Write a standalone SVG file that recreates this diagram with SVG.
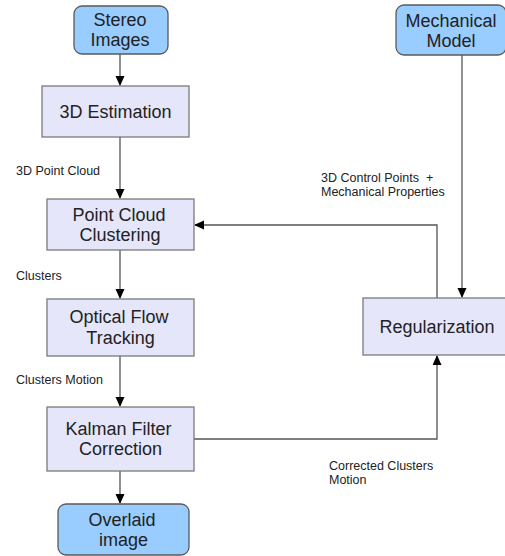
<svg xmlns="http://www.w3.org/2000/svg" width="505" height="556" viewBox="0 0 505 556">
<defs>
<marker id="ah" markerWidth="10" markerHeight="10" refX="9" refY="4.5" orient="auto" markerUnits="userSpaceOnUse">
<path d="M0,0 L10,4.5 L0,9 Z" fill="#000"/>
</marker>
<style>
.proc{fill:#e6e6fb;stroke:#7a7a7a;stroke-width:1.3}
.io{fill:#99ccff;stroke:#5a5a5a;stroke-width:1.3}
.t{font-family:"Liberation Sans",Arial,sans-serif;font-size:18px;fill:#222;text-anchor:middle}
.l{font-family:"Liberation Sans",Arial,sans-serif;font-size:12.5px;fill:#222}
.c{fill:none;stroke:#555;stroke-width:1.3}
</style>
</defs>
<rect width="505" height="556" fill="#fff"/>
<g id="connectors">
<path class="c" d="M120,54 V85" marker-end="url(#ah)"/>
<path class="c" d="M120,137 V198" marker-end="url(#ah)"/>
<path class="c" d="M120,250 V298" marker-end="url(#ah)"/>
<path class="c" d="M120,356 V406" marker-end="url(#ah)"/>
<path class="c" d="M120,471 V503" marker-end="url(#ah)"/>
<path class="c" d="M462,55 V297" marker-end="url(#ah)"/>
<path class="c" d="M437,298 V225 H195" marker-end="url(#ah)"/>
<path class="c" d="M194,439 H437 V356" marker-end="url(#ah)"/>
<text class="l" x="16" y="175">3D Point Cloud</text>
<text class="l" x="16" y="280">Clusters</text>
<text class="l" x="16" y="384">Clusters Motion</text>
<text class="l" x="321" y="182" xml:space="preserve">3D Control Points  +</text>
<text class="l" x="321" y="196">Mechanical Properties</text>
<text class="l" x="329" y="470">Corrected Clusters</text>
<text class="l" x="329" y="484">Motion</text>
</g>
<g id="stereo">
<rect class="io" x="74" y="6" width="94" height="48" rx="8"/>
<text class="t" x="120" y="26">Stereo</text>
<text class="t" x="120" y="46">Images</text>
</g>
<g id="mechanical">
<rect class="io" x="396" y="5" width="110" height="50" rx="8"/>
<text class="t" x="451" y="27">Mechanical</text>
<text class="t" x="451" y="47">Model</text>
</g>
<g id="estimation">
<rect class="proc" x="42" y="86" width="147" height="51"/>
<text class="t" x="115.5" y="118">3D Estimation</text>
</g>
<g id="clustering">
<rect class="proc" x="47" y="199" width="147" height="51"/>
<text class="t" x="119" y="221">Point Cloud</text>
<text class="t" x="120" y="241">Clustering</text>
</g>
<g id="optical">
<rect class="proc" x="47" y="299" width="147" height="57"/>
<text class="t" x="119" y="323">Optical Flow</text>
<text class="t" x="120.5" y="344">Tracking</text>
</g>
<g id="kalman">
<rect class="proc" x="47" y="407" width="147" height="64"/>
<text class="t" x="118.5" y="435">Kalman Filter</text>
<text class="t" x="120.5" y="455">Correction</text>
</g>
<g id="overlaid">
<rect class="io" x="58" y="504" width="131" height="51" rx="8"/>
<text class="t" x="122" y="526">Overlaid</text>
<text class="t" x="123.5" y="546">image</text>
</g>
<g id="regularization">
<rect class="proc" x="363" y="298" width="150" height="57"/>
<text class="t" x="437" y="333">Regularization</text>
</g>
</svg>
